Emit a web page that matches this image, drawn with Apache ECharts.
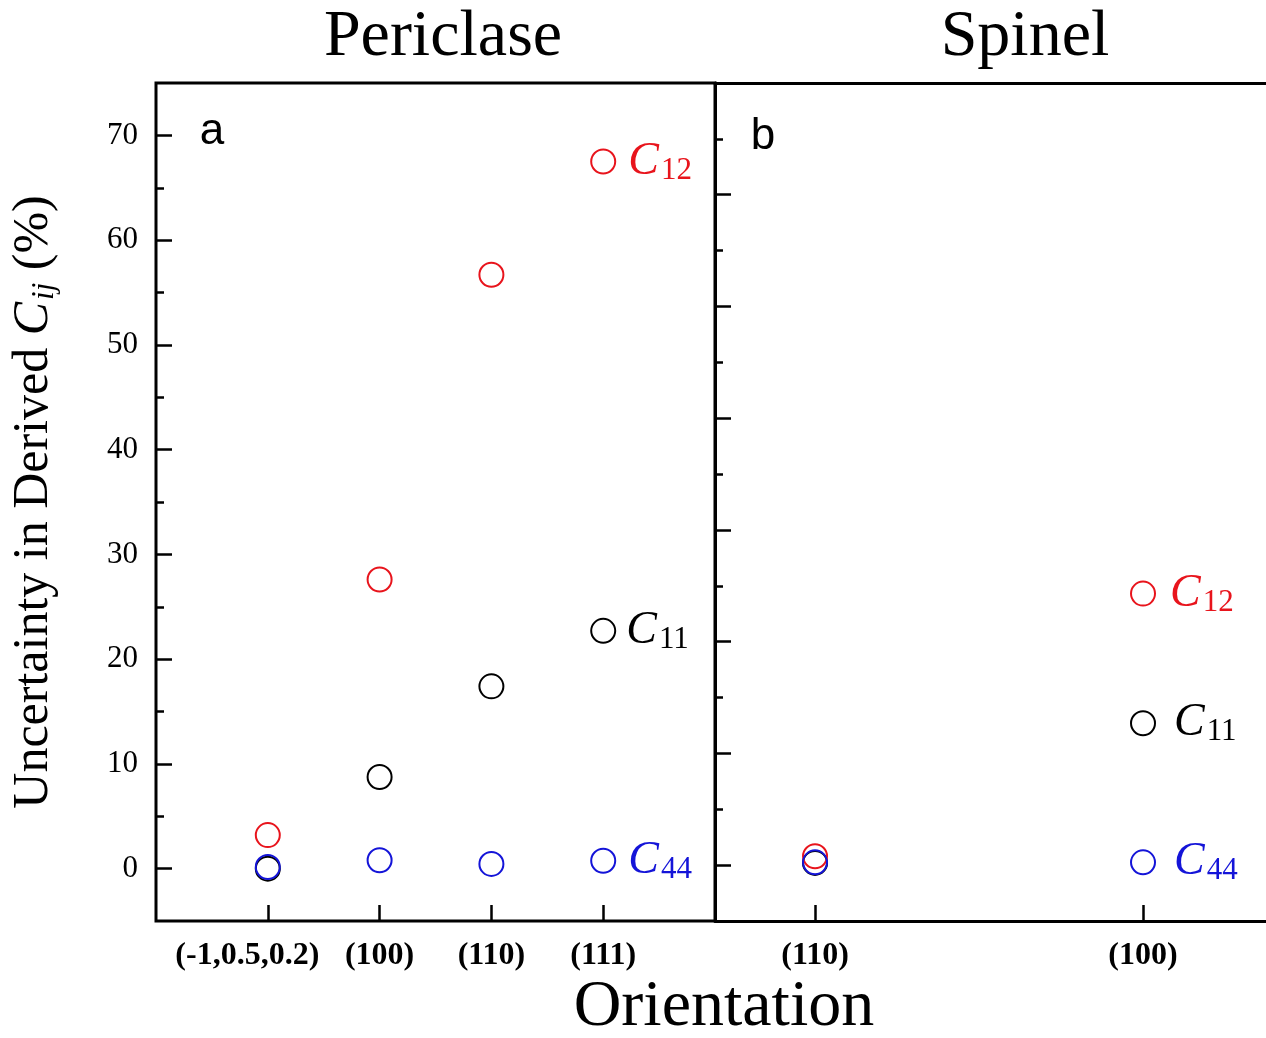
<!DOCTYPE html>
<html>
<head>
<meta charset="utf-8">
<script src="https://cdn.jsdelivr.net/npm/echarts@6/dist/echarts.min.js"></script>
<style>
html,body{margin:0;padding:0;background:#fff;}
#chart{width:1266px;height:1038px;}
</style>
</head>
<body>
<div id="chart"></div>
<script>
// ---- data ----
const periCats = ['(-1,0.5,0.2)', '(100)', '(110)', '(111)'];
const periC11 = [0.0, 8.75, 17.4, 22.7];
const periC12 = [3.2, 27.6, 56.7, 67.5];
const periC44 = [0.15, 0.8, 0.45, 0.75];

const spinCats = ['(110)', '(100)'];
const spinC11 = [0.2, 12.7];
const spinC12 = [0.8, 24.3];
const spinC44 = [0.25, 0.25];

const majorTicks = [0, 10, 20, 30, 40, 50, 60, 70];
const minorTicks = [5, 15, 25, 35, 45, 55, 65];

// ---- style ----
const serif = '"Liberation Serif", "Times New Roman", serif';
const sans = '"Liberation Sans", Arial, sans-serif';
const RED = '#e8141c';
const BLACK = '#000000';
const BLUE = '#1414d8';

const G = {top: 83, height: 838};
const frameLine = {color: '#000', width: 3};

function mkLabel(sub, color, dist) {
  return {
    show: true, position: 'right', distance: dist,
    formatter: '{c|C}{s|' + sub + '}',
    rich: {
      c: {fontFamily: serif, fontStyle: 'italic', fontSize: 46, color: color},
      s: {fontFamily: serif, fontSize: 31, color: color, padding: [18, 0, 0, 2]}
    }
  };
}

function toData(vals, labelSub, color, dist) {
  return vals.map(function (v, i) {
    const item = {value: [i + 1, v]};
    if (i === vals.length - 1) item.label = mkLabel(labelSub, color, dist);
    return item;
  });
}

function scatter(name, xi, yi, vals, color, sub, dist) {
  return {
    name: name, type: 'scatter', xAxisIndex: xi, yAxisIndex: yi,
    symbol: 'circle', symbolSize: 24,
    itemStyle: {color: 'rgba(0,0,0,0)', borderColor: color, borderWidth: 2, opacity: 1},
    emphasis: {disabled: true},
    data: toData(vals, sub, color, dist)
  };
}

const tickLine = {color: '#000', width: 2.5};

function yAx(gi, min, max, ticks, len, labels, extra) {
  return Object.assign({
    gridIndex: gi, type: 'value', position: 'left', min: min, max: max,
    axisLine: {show: false, onZero: false}, splitLine: {show: false},
    axisTick: {show: true, inside: true, length: len, customValues: ticks, lineStyle: tickLine},
    axisLabel: labels ? {show: true, customValues: ticks, margin: 18, fontFamily: serif, fontSize: 31, color: '#000'} : {show: false}
  }, extra || {});
}

const xLabelRich = {
  n: {fontFamily: serif, fontWeight: 'bold', fontSize: 32, color: '#000'},
  w: {fontFamily: serif, fontWeight: 'bold', fontSize: 32, color: '#000', padding: [0, 41, 0, 0]}
};

function xAx(gi, min, max, cats, showLine) {
  const vals = cats.map(function (c, i) { return i + 1; });
  return {
    gridIndex: gi, type: 'value', position: 'bottom', min: min, max: max,
    axisLine: {show: !!showLine, onZero: false, lineStyle: frameLine}, splitLine: {show: false},
    axisTick: {show: true, inside: true, length: 16, customValues: vals, lineStyle: tickLine},
    axisLabel: {
      show: true, customValues: vals, margin: 19,
      fontFamily: serif, fontWeight: 'bold', fontSize: 32, color: '#000',
      rich: xLabelRich,
      formatter: function (v) {
        const t = cats[Math.round(v) - 1] || '';
        return t.length > 6 ? '{w|' + t + '}' : '{n|' + t + '}';
      }
    }
  };
}

const chart = echarts.init(document.getElementById('chart'), null, {renderer: 'canvas'});
chart.setOption({
  animation: false,
  backgroundColor: '#fff',
  grid: [
    {left: 156, top: G.top, width: 559, height: G.height, show: true, borderColor: '#000', borderWidth: 3},
    {left: 715, top: G.top, right: 0, height: G.height, show: false}
  ],
  xAxis: [
    xAx(0, 0, 5, periCats, false),
    xAx(1, 0.695, 2.375, spinCats, true),
    {gridIndex: 1, type: 'value', position: 'top', min: 0.695, max: 2.375,
     axisLine: {show: true, onZero: false, lineStyle: frameLine},
     axisTick: {show: false}, axisLabel: {show: false}, splitLine: {show: false}}
  ],
  yAxis: [
    yAx(0, -5, 75, majorTicks, 16, true, {
      name: '{t|Uncertainty in Derived }{c|C}{s|ij}{t| (%)}',
      nameLocation: 'middle', nameRotate: 90, nameGap: 96,
      nameTextStyle: {
        rich: {
          t: {fontFamily: serif, fontSize: 50, color: '#000'},
          c: {fontFamily: serif, fontStyle: 'italic', fontSize: 50, color: '#000'},
          s: {fontFamily: serif, fontStyle: 'italic', fontSize: 31, color: '#000', padding: [22, 0, 0, 2]}
        }
      }
    }),
    yAx(0, -5, 75, minorTicks, 8, false),
    yAx(1, -5, 70, majorTicks, 16, false, {axisLine: {show: true, onZero: false, lineStyle: frameLine}}),
    yAx(1, -5, 70, minorTicks, 8, false)
  ],
  graphic: [
    {type: 'text', x: 443, y: 38, style: {text: 'Periclase', font: '66px ' + serif, fill: '#000', textAlign: 'center', textVerticalAlign: 'middle'}},
    {type: 'text', x: 1025, y: 38, style: {text: 'Spinel', font: '66px ' + serif, fill: '#000', textAlign: 'center', textVerticalAlign: 'middle'}},
    {type: 'text', x: 724, y: 1008, style: {text: 'Orientation', font: '66px ' + serif, fill: '#000', textAlign: 'center', textVerticalAlign: 'middle'}},
    {type: 'text', x: 212, y: 132, style: {text: 'a', font: '44px ' + sans, fill: '#000', textAlign: 'center', textVerticalAlign: 'middle'}},
    {type: 'text', x: 763, y: 137, style: {text: 'b', font: '44px ' + sans, fill: '#000', textAlign: 'center', textVerticalAlign: 'middle'}}
  ],
  series: [
    scatter('C11', 0, 0, periC11, BLACK, '11', 10),
    scatter('C12', 0, 0, periC12, RED, '12', 12),
    scatter('C44', 0, 0, periC44, BLUE, '44', 12),
    scatter('C11', 1, 2, spinC11, BLACK, '11', 18),
    scatter('C12', 1, 2, spinC12, RED, '12', 14),
    scatter('C44', 1, 2, spinC44, BLUE, '44', 18)
  ]
});
</script>
</body>
</html>
